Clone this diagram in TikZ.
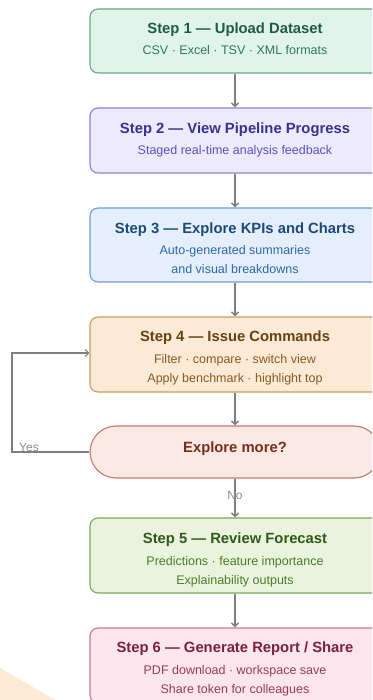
\documentclass[tikz,border=0pt]{standalone}
\usepackage{fontspec}
\setmainfont{Liberation Sans}
\usetikzlibrary{arrows.meta}
\definecolor{gfill}{HTML}{E1F4EC}\definecolor{gdraw}{HTML}{62AA8B}\definecolor{gtitle}{HTML}{1F5C45}\definecolor{gsub}{HTML}{2E7A5C}
\definecolor{pfill}{HTML}{ECEAFB}\definecolor{pdraw}{HTML}{8C83D9}\definecolor{ptitle}{HTML}{3A3190}\definecolor{psub}{HTML}{5A52C0}
\definecolor{bfill}{HTML}{E4EFFB}\definecolor{bdraw}{HTML}{6C9FD6}\definecolor{btitle}{HTML}{1D4A7A}\definecolor{bsub}{HTML}{2F68A8}
\definecolor{ofill}{HTML}{FBEAD6}\definecolor{odraw}{HTML}{C99B60}\definecolor{otitle}{HTML}{6A4212}\definecolor{osub}{HTML}{8A5A22}
\definecolor{rfill}{HTML}{FAE9E4}\definecolor{rdraw}{HTML}{C27B6B}\definecolor{rtitle}{HTML}{7A2E1A}
\definecolor{lfill}{HTML}{E9F3DD}\definecolor{ldraw}{HTML}{7BA85B}\definecolor{ltitle}{HTML}{2F5A17}\definecolor{lsub}{HTML}{4B7E2C}
\definecolor{mfill}{HTML}{FBE6EE}\definecolor{mdraw}{HTML}{C77C9A}\definecolor{mtitle}{HTML}{7A2141}\definecolor{msub}{HTML}{9A3A5C}
\definecolor{arr}{HTML}{7F7F7F}
\definecolor{bgtri}{HTML}{FDEAD5}
\tikzset{
  stepbox/.style={draw, rounded corners=8pt, minimum width=290pt, line width=1.1pt, inner sep=0pt},
  decbox/.style={draw, rounded corners=26pt, minimum width=290pt, minimum height=52pt, line width=1.1pt, inner sep=0pt},
  ttl/.style={anchor=base, inner sep=0pt, font=\fontsize{14.8}{18}\selectfont\bfseries},
  sub/.style={anchor=base, inner sep=0pt, font=\fontsize{12.5}{15}\selectfont},
  lbl/.style={anchor=base, inner sep=0pt, text=arr!90, font=\fontsize{12}{14}\selectfont},
  flow/.style={draw=arr, line width=1.4pt, -{Straight Barb[length=3.5pt,width=7pt]}},
}
\begin{document}
\begin{tikzpicture}[x=1pt,y=-1pt]
\useasboundingbox (0,0) rectangle (372,700);
\clip (0,0) rectangle (372,700);
\fill[bgtri] (0,668) -- (55,700) -- (0,700) -- cycle;
% boxes
\node[stepbox, fill=gfill, draw=gdraw, minimum height=64pt] (b1) at (235,41) {};
\node[stepbox, fill=pfill, draw=pdraw, minimum height=65pt] (b2) at (235,140.5) {};
\node[stepbox, fill=bfill, draw=bdraw, minimum height=74pt] (b3) at (235,245) {};
\node[stepbox, fill=ofill, draw=odraw, minimum height=75pt] (b4) at (235,354.5) {};
\node[decbox, fill=rfill, draw=rdraw] (d) at (235,452) {};
\node[stepbox, fill=lfill, draw=ldraw, minimum height=75pt] (b5) at (235,555.5) {};
\node[stepbox, fill=mfill, draw=mdraw, minimum height=75pt] (b6) at (235,665.5) {};
% texts
\node[ttl, text=gtitle] (t1) at (235,33.3) {Step 1 — Upload Dataset};
\node[sub, text=gsub] (s1) at (235,54.3) {CSV · Excel · TSV · XML formats};
\node[ttl, text=ptitle] (t2) at (235,133.3) {Step 2 — View Pipeline Progress};
\node[sub, text=psub] (s2) at (235,154.3) {Staged real-time analysis feedback};
\node[ttl, text=btitle] (t3) at (235,233.3) {Step 3 — Explore KPIs and Charts};
\node[sub, text=bsub] (s3a) at (235,254.3) {Auto-generated summaries};
\node[sub, text=bsub] (s3b) at (235,273.8) {and visual breakdowns};
\node[ttl, text=otitle] (t4) at (235,341.7) {Step 4 — Issue Commands};
\node[sub, text=osub] (s4a) at (235,363.3) {Filter · compare · switch view};
\node[sub, text=osub] (s4b) at (235,382.7) {Apply benchmark · highlight top};
\node[ttl, text=rtitle] (td) at (235,452.7) {Explore more?};
\node[ttl, text=ltitle] (t5) at (235,543.3) {Step 5 — Review Forecast};
\node[sub, text=lsub] (s5a) at (235,565) {Predictions · feature importance};
\node[sub, text=lsub] (s5b) at (235,584.3) {Explainability outputs};
\node[ttl, text=mtitle] (t6) at (235,652.7) {Step 6 — Generate Report / Share};
\node[sub, text=msub] (s6a) at (235,674) {PDF download · workspace save};
\node[sub, text=msub] (s6b) at (235,693.3) {Share token for colleagues};
% connectors
\draw[flow] (b1) -- (b2);
\draw[flow] (b2) -- (b3);
\draw[flow] (b3) -- (b4);
\draw[flow] (b4) -- (d);
\draw[flow] (d) -- (b5);
\draw[flow] (b5) -- (b6);
\coordinate (lp) at (12,452);
\draw[flow, line width=1.2pt] (d.west) -- (lp) -- (12,353) -- (b4.west |- 0,353);
\node[lbl] (yes) at (29,451.7) {Yes};
\node[lbl] (no) at (235,499) {No};
\end{tikzpicture}
\end{document}
